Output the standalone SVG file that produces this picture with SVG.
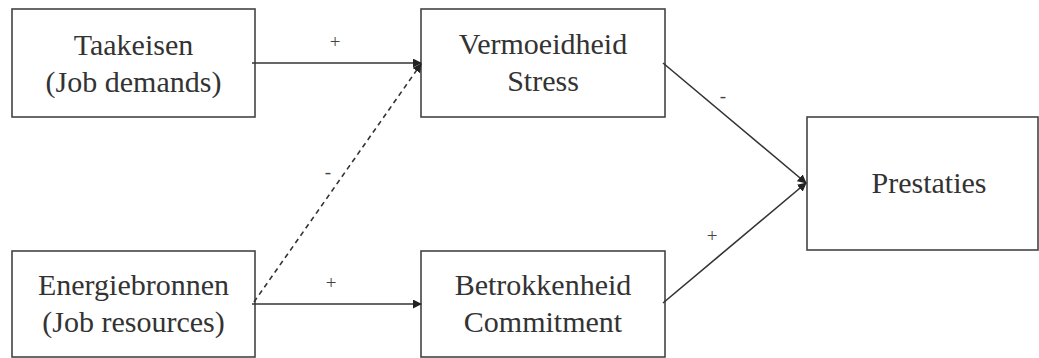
<svg xmlns="http://www.w3.org/2000/svg" width="1039" height="358" viewBox="0 0 1039 358">
<style>
.box{fill:#fff;stroke:#444;stroke-width:1.6}
.t{font-size:30px;fill:#333;text-anchor:middle}
.l{font-size:19px;fill:#444;text-anchor:middle}
.c{stroke:#333;stroke-width:1.6;fill:none}
.d{stroke-dasharray:5 4}
</style>
<defs>
<marker id="ah" viewBox="0 0 10 10" refX="9" refY="5" markerWidth="9" markerHeight="9" markerUnits="userSpaceOnUse" orient="auto">
<path d="M0,0 L10,5 L0,10 z" fill="#222"/>
</marker>
</defs>
<g font-family="Liberation Serif, DejaVu Serif, serif">
<g id="n-taakeisen"><rect class="box" x="12" y="9" width="243" height="108"/><text class="t" x="133.5" y="55">Taakeisen</text><text class="t" x="133.5" y="92">(Job demands)</text></g>
<g id="n-energie"><rect class="box" x="12" y="251" width="243" height="106"/><text class="t" x="133.5" y="295">Energiebronnen</text><text class="t" x="133.5" y="332">(Job resources)</text></g>
<g id="n-vermoeid"><rect class="box" x="421" y="9" width="244" height="108"/><text class="t" x="543" y="54">Vermoeidheid</text><text class="t" x="543" y="91">Stress</text></g>
<g id="n-betrok"><rect class="box" x="421" y="251" width="244" height="106"/><text class="t" x="543" y="295">Betrokkenheid</text><text class="t" x="543" y="332">Commitment</text></g>
<g id="n-prestaties"><rect class="box" x="807" y="117" width="231" height="133"/><text class="t" x="929" y="193">Prestaties</text></g>
<g id="connectors">
<line class="c" x1="252" y1="63" x2="421" y2="63" marker-end="url(#ah)"/>
<line class="c" x1="252" y1="304" x2="421" y2="304" marker-end="url(#ah)"/>
<line class="c d" x1="254" y1="302" x2="421" y2="64" marker-end="url(#ah)"/>
<line class="c" x1="663" y1="63" x2="806" y2="183" marker-end="url(#ah)"/>
<line class="c" x1="663" y1="303" x2="806" y2="183" marker-end="url(#ah)"/>
<text class="l" x="335" y="48">+</text>
<text class="l" x="331" y="289">+</text>
<text class="l" x="328" y="178">-</text>
<text class="l" x="723" y="102">-</text>
<text class="l" x="712" y="242">+</text>
</g>
</g>
</svg>
